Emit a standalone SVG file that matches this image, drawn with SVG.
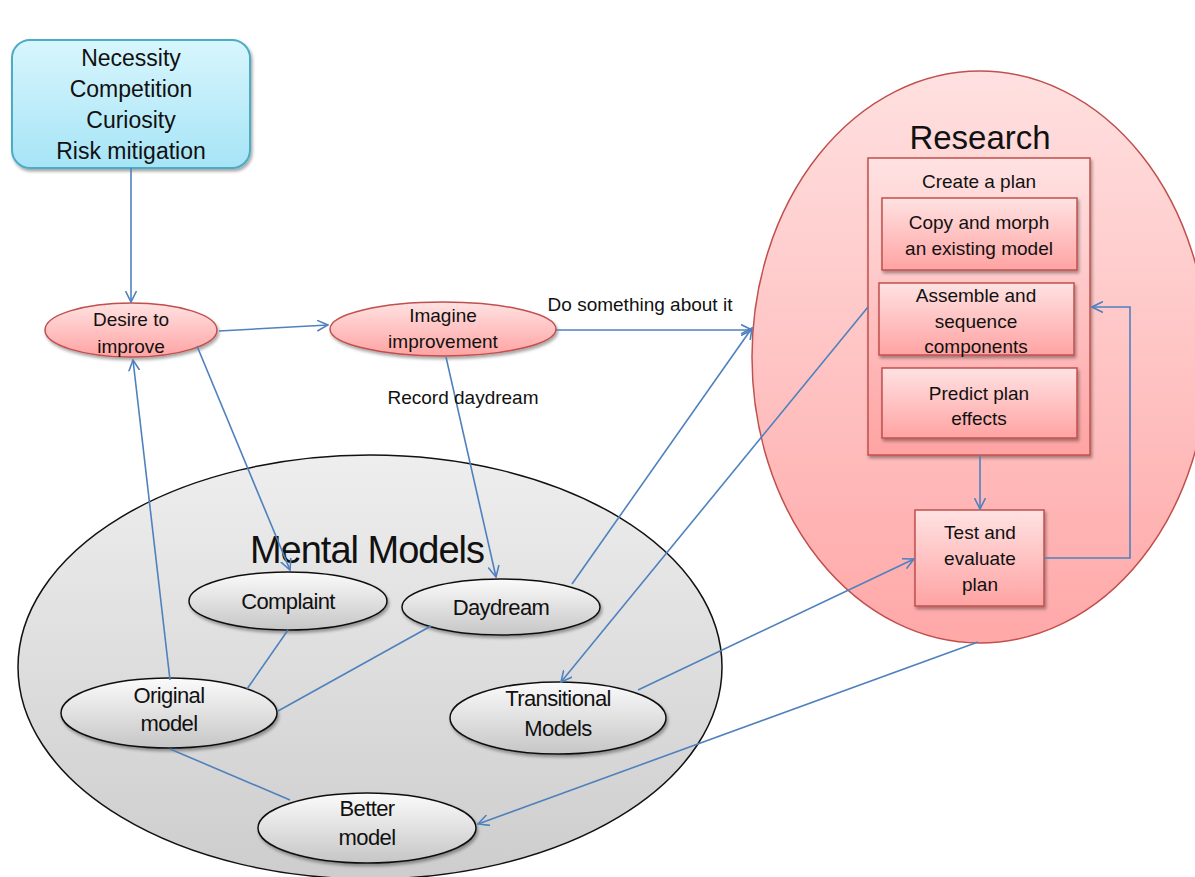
<svg xmlns="http://www.w3.org/2000/svg" width="1195" height="877" viewBox="0 0 1195 877">
<defs>
<linearGradient id="pink" x1="0" y1="0" x2="0" y2="1"><stop offset="0" stop-color="#ffe2e2"/><stop offset="1" stop-color="#ffa3a3"/></linearGradient>
<linearGradient id="pinkBig" x1="0" y1="0" x2="0" y2="1"><stop offset="0" stop-color="#ffe0e0"/><stop offset="1" stop-color="#ffa8a8"/></linearGradient>
<linearGradient id="cyan" x1="0" y1="0" x2="0" y2="1"><stop offset="0" stop-color="#d8f6fd"/><stop offset="1" stop-color="#a6e4f6"/></linearGradient>
<linearGradient id="gray" x1="0" y1="0" x2="0" y2="1"><stop offset="0" stop-color="#fbfbfb"/><stop offset="1" stop-color="#c6c6c6"/></linearGradient>
<linearGradient id="grayBig" x1="0" y1="0" x2="0" y2="1"><stop offset="0" stop-color="#eeeeee"/><stop offset="1" stop-color="#cdcdcd"/></linearGradient>
<filter id="sh" x="-10%" y="-10%" width="130%" height="140%"><feDropShadow dx="1.5" dy="2.5" stdDeviation="1.5" flood-color="#000" flood-opacity="0.35"/></filter>
<marker id="arr" viewBox="0 0 12 12" refX="11" refY="6" markerWidth="12" markerHeight="12" markerUnits="userSpaceOnUse" orient="auto"><path d="M0,0.5 L11,6 L0,11.5" fill="none" stroke="#4f81bd" stroke-width="1.6"/></marker>
</defs>
<style>
.t{font-family:"Liberation Sans",Arial,sans-serif;fill:#111;text-anchor:middle}
.pk{fill:url(#pink);stroke:#c0504d;stroke-width:1.5;filter:url(#sh)}
.gr{fill:url(#gray);stroke:#111;stroke-width:1.5;filter:url(#sh)}
.c{fill:none;stroke:#4f81bd;stroke-width:1.6}
.a{marker-end:url(#arr)}
.r{font-size:19px}
.m{font-size:22px;letter-spacing:-0.6px}
</style>

<g id="research">
<ellipse cx="980" cy="357" rx="228" ry="286" fill="url(#pinkBig)" stroke="#c0504d" stroke-width="1.5"/>
<text class="t" x="980" y="149" font-size="33">Research</text>
</g>

<g id="mental-models">
<ellipse cx="370" cy="667" rx="352" ry="212" fill="url(#grayBig)" stroke="#111" stroke-width="1.5"/>
<text class="t" x="367" y="563" font-size="38" letter-spacing="-1">Mental Models</text>
</g>

<g id="drivers">
<rect x="12" y="40" width="238" height="128" rx="18" fill="url(#cyan)" stroke="#4bacc6" stroke-width="2" filter="url(#sh)"/>
<text class="t" x="131" y="66" font-size="23">Necessity</text>
<text class="t" x="131" y="97" font-size="23">Competition</text>
<text class="t" x="131" y="128" font-size="23">Curiosity</text>
<text class="t" x="131" y="159" font-size="23">Risk mitigation</text>
</g>

<g id="desire">
<ellipse class="pk" cx="131" cy="330" rx="86" ry="27"/>
<text class="t" x="131" y="326" font-size="19">Desire to</text>
<text class="t" x="131" y="353" font-size="19">improve</text>
</g>

<g id="imagine">
<ellipse class="pk" cx="443" cy="329" rx="113" ry="27"/>
<text class="t" x="443" y="322" font-size="19">Imagine</text>
<text class="t" x="443" y="348" font-size="19">improvement</text>
</g>

<g id="create-plan">
<rect class="pk" x="868" y="158" width="222" height="297"/>
<text class="t r" x="979" y="188">Create a plan</text>
</g>
<g id="copy-morph">
<rect class="pk" x="882" y="198" width="195" height="72"/>
<text class="t r" x="979" y="229">Copy and morph</text>
<text class="t r" x="979" y="255">an existing model</text>
</g>
<g id="assemble">
<rect class="pk" x="879" y="283" width="195" height="72"/>
<text class="t r" x="976" y="302">Assemble and</text>
<text class="t r" x="976" y="328">sequence</text>
<text class="t r" x="976" y="353">components</text>
</g>
<g id="predict">
<rect class="pk" x="882" y="368" width="195" height="70"/>
<text class="t r" x="979" y="400">Predict plan</text>
<text class="t r" x="979" y="425">effects</text>
</g>
<g id="test">
<rect class="pk" x="915" y="510" width="129" height="96"/>
<text class="t r" x="980" y="539">Test and</text>
<text class="t r" x="980" y="565">evaluate</text>
<text class="t r" x="980" y="591">plan</text>
</g>

<g id="complaint">
<ellipse class="gr" cx="288" cy="601" rx="99" ry="29"/>
<text class="t m" x="288" y="609">Complaint</text>
</g>
<g id="daydream">
<ellipse class="gr" cx="501" cy="607" rx="99" ry="28"/>
<text class="t m" x="501" y="615">Daydream</text>
</g>
<g id="original">
<ellipse class="gr" cx="169" cy="713" rx="108" ry="35"/>
<text class="t m" x="169" y="703">Original</text>
<text class="t m" x="169" y="731">model</text>
</g>
<g id="transitional">
<ellipse class="gr" cx="558" cy="718" rx="108" ry="36"/>
<text class="t m" x="558" y="706">Transitional</text>
<text class="t m" x="558" y="736">Models</text>
</g>
<g id="better">
<ellipse class="gr" cx="367" cy="828" rx="109" ry="35"/>
<text class="t m" x="367" y="816">Better</text>
<text class="t m" x="367" y="845">model</text>
</g>

<g id="connectors">
<line class="c a" x1="131" y1="168" x2="131" y2="302"/>
<line class="c a" x1="219" y1="331" x2="328" y2="325"/>
<line class="c a" x1="556" y1="330" x2="752" y2="330"/>
<text class="t" x="640" y="311" font-size="19">Do something about it</text>
<line class="c a" x1="446" y1="357" x2="496" y2="577"/>
<text class="t" x="463" y="404" font-size="19">Record daydream</text>
<line class="c a" x1="572" y1="584" x2="752" y2="328"/>
<line class="c a" x1="197" y1="346" x2="290" y2="570"/>
<line class="c a" x1="170" y1="680" x2="133" y2="360"/>
<line class="c" x1="288" y1="630" x2="247" y2="689"/>
<line class="c" x1="431" y1="626" x2="278" y2="711"/>
<line class="c" x1="170" y1="749" x2="290" y2="800"/>
<line class="c a" x1="868" y1="307" x2="561" y2="682"/>
<line class="c a" x1="638" y1="690" x2="914" y2="559"/>
<line class="c a" x1="978" y1="642" x2="478" y2="824"/>
<line class="c a" x1="980" y1="455" x2="980" y2="509"/>
<polyline class="c a" points="1044,558 1130,558 1130,307 1092,307"/>
</g>
</svg>
